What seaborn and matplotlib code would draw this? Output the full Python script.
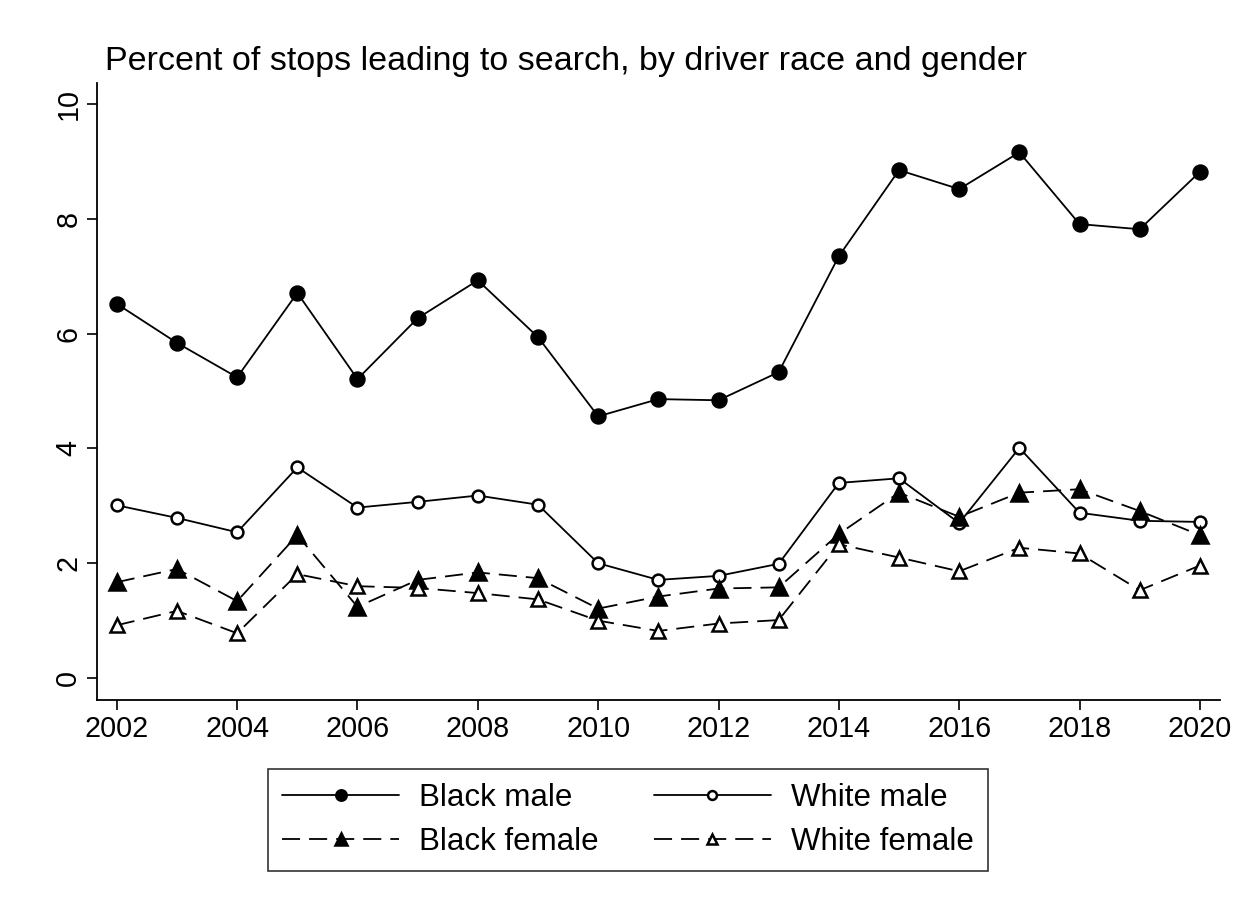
import pandas as pd
import seaborn as sns
import matplotlib.pyplot as plt

# data
years = list(range(2002, 2021))
black_male = [6.52, 5.84, 5.24, 6.71, 5.21, 6.27, 6.93, 5.94, 4.56, 4.86,
              4.84, 5.33, 7.35, 8.85, 8.52, 9.16, 7.91, 7.82, 8.82]
white_male = [3.01, 2.79, 2.54, 3.67, 2.97, 3.07, 3.18, 3.02, 2.00, 1.71,
              1.78, 1.99, 3.40, 3.48, 2.70, 4.01, 2.88, 2.74, 2.72]
black_female = [1.67, 1.90, 1.34, 2.49, 1.24, 1.71, 1.84, 1.74, 1.21, 1.42,
                1.56, 1.58, 2.51, 3.23, 2.81, 3.23, 3.29, 2.91, 2.49]
white_female = [0.92, 1.17, 0.78, 1.81, 1.60, 1.57, 1.48, 1.37, 1.00, 0.82,
                0.95, 1.01, 2.33, 2.10, 1.86, 2.27, 2.17, 1.53, 1.96]
series_names = ['Black male', 'White male', 'Black female', 'White female']
x_ticks = list(range(2002, 2021, 2))
y_ticks = [0, 2, 4, 6, 8, 10]
title = 'Percent of stops leading to search, by driver race and gender'

df = pd.DataFrame({'year': years, 'Black male': black_male, 'White male': white_male,
                   'Black female': black_female, 'White female': white_female})

sns.set_style('white')
plt.rcParams['font.family'] = ['Liberation Sans', 'DejaVu Sans']
plt.rcParams['text.color'] = 'black'
plt.rcParams['xtick.color'] = 'black'
plt.rcParams['ytick.color'] = 'black'

fig = plt.figure(figsize=(12.51, 9.11), dpi=100)
ax = fig.add_axes([0.0775, 0.2316, 0.8975, 0.6774])

styles = {
    'Black male': dict(marker='o', mfc='black', ms=10, dashed=False),
    'White male': dict(marker='o', mfc='white', ms=8.5, dashed=False),
    'Black female': dict(marker='^', mfc='black', ms=11, dashed=True),
    'White female': dict(marker='^', mfc='white', ms=10, dashed=True),
}

lines = {}
for name in series_names:
    st = styles[name]
    sns.lineplot(data=df, x='year', y=name, ax=ax, color='black', lw=1.3,
                 marker=st['marker'], markerfacecolor=st['mfc'],
                 markeredgecolor='black', markeredgewidth=1.8,
                 markersize=st['ms'], legend=False)
    line = ax.lines[-1]
    if st['dashed']:
        line.set_dashes((10, 5))
    lines[name] = line

ax.set_xlim(2001.67, 2020.33)
ax.set_ylim(-0.383, 10.37)
ax.set_xticks(x_ticks)
ax.set_yticks(y_ticks)
ax.set_xlabel('')
ax.set_ylabel('')
ax.tick_params(axis='both', direction='out', length=7, width=1.2, color='black',
               labelsize=20.7, bottom=True, left=True)
for lab in ax.get_yticklabels():
    lab.set_rotation(90)
    lab.set_va('center')
sns.despine(ax=ax)
for side in ['left', 'bottom']:
    ax.spines[side].set_color('black')
    ax.spines[side].set_linewidth(1.3)

fig.text(0.084, 0.932, title, fontsize=24.5, ha='left', va='center')

# matplotlib fills legend columns first, so order for row-wise reading
order = ['Black male', 'Black female', 'White male', 'White female']
leg = fig.legend(handles=[lines[n] for n in order], labels=order, ncol=2,
                 loc='center', bbox_to_anchor=(0.502, 0.0999), fontsize=22.5,
                 numpoints=1, markerscale=0.75, handlelength=3.75,
                 handletextpad=0.65, columnspacing=1.75,
                 frameon=True, fancybox=False, edgecolor='black',
                 borderpad=0.45, labelspacing=0.45)
leg.get_frame().set_linewidth(1.2)

plt.savefig('out.png', dpi=100)
plt.close()
